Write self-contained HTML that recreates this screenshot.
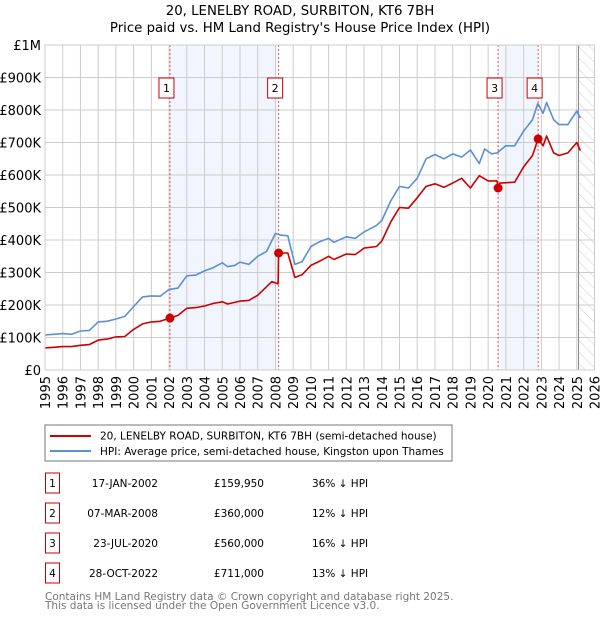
<!DOCTYPE html>
<html><head><meta charset="utf-8"><style>
body{margin:0;background:#fff;font-family:"DejaVu Sans","Liberation Sans",sans-serif;}
svg text{font-family:"DejaVu Sans","Liberation Sans",sans-serif;}
</style></head><body>
<svg id="c" width="600" height="620" xmlns="http://www.w3.org/2000/svg">
<defs><pattern id="hatch" width="8" height="8" patternUnits="userSpaceOnUse" patternTransform="rotate(-45)"><line x1="0" y1="0" x2="0" y2="8" stroke="#ccc" stroke-width="1"/></pattern></defs>
<text x="300" y="15" text-anchor="middle" font-size="13.3">20, LENELBY ROAD, SURBITON, KT6 7BH</text>
<text x="300" y="32" text-anchor="middle" font-size="13.3">Price paid vs. HM Land Registry's House Price Index (HPI)</text>
<g id="plot"></g>
<rect x="45" y="425" width="407" height="36" fill="#fff" stroke="#777"/>
<line x1="50" y1="436" x2="91" y2="436" stroke="#cc0000" stroke-width="2"/>
<text x="100" y="439.5" font-size="10.5">20, LENELBY ROAD, SURBITON, KT6 7BH (semi-detached house)</text>
<line x1="50" y1="451" x2="91" y2="451" stroke="#5b8fd6" stroke-width="2"/>
<text x="100" y="455" font-size="10.5">HPI: Average price, semi-detached house, Kingston upon Thames</text>
<g id="table" font-size="10.5"></g>
<text x="45" y="600" font-size="10.5" fill="#777">Contains HM Land Registry data © Crown copyright and database right 2025.</text>
<text x="45" y="609" font-size="10.5" fill="#777">This data is licensed under the Open Government Licence v3.0.</text>
</svg>
<script>
const NS="http://www.w3.org/2000/svg";
const hpiDates=[1995,1995.5,1996,1996.5,1997,1997.5,1998,1998.5,1999,1999.5,2000,2000.5,2001,2001.5,2002,2002.5,2003,2003.5,2004,2004.5,2005,2005.3,2005.7,2006,2006.5,2007,2007.5,2008,2008.3,2008.7,2009.1,2009.5,2010,2010.5,2011,2011.3,2012,2012.5,2013,2013.7,2014,2014.5,2015,2015.5,2016,2016.5,2017,2017.5,2018,2018.5,2019,2019.5,2019.8,2020.2,2020.5,2021,2021.5,2022,2022.5,2022.8,2023.1,2023.3,2023.7,2024,2024.5,2025,2025.2];
const hpiValues=[108,110,112,110,120,122,148,150,157,165,195,225,228,227,248,252,290,292,305,315,330,318,322,332,325,350,365,420,415,413,325,333,380,395,405,393,410,405,425,445,460,520,565,560,590,650,663,650,665,655,677,635,680,665,668,690,690,735,770,820,790,823,770,755,755,797,775];
const priceDates=[1995,1995.5,1996,1996.5,1997,1997.5,1998,1998.5,1999,1999.5,2000,2000.5,2001,2001.5,2002.05,2002.5,2003,2003.5,2004,2004.5,2005,2005.3,2006,2006.5,2007,2007.8,2008.15,2008.18,2008.7,2009.1,2009.5,2010,2010.5,2011,2011.3,2012,2012.5,2013,2013.7,2014,2014.5,2015,2015.5,2016,2016.5,2017,2017.5,2018,2018.5,2019,2019.5,2020,2020.5,2020.56,2020.65,2021.5,2022,2022.5,2022.82,2023.1,2023.3,2023.7,2024,2024.5,2025,2025.2];
const priceValues=[68,70,72,72,76,78,92,95,102,103,125,142,148,150,160,168,190,192,197,205,210,203,212,214,230,272,265,360,360,285,293,322,335,350,340,357,355,375,380,397,455,500,498,530,565,573,562,575,590,560,598,582,582,560,575,578,625,660,711,690,720,668,660,668,700,675];
const saleLabels=["1","2","3","4"];
const saleDates=[2002.05,2008.18,2020.56,2022.82];
const saleValues=[159.95,360,560,711];
const saleDateText=["17-JAN-2002","07-MAR-2008","23-JUL-2020","28-OCT-2022"];
const salePriceText=["£159,950","£360,000","£560,000","£711,000"];
const saleHpiText=["36% ↓ HPI","12% ↓ HPI","16% ↓ HPI","13% ↓ HPI"];
const yTicks=[0,100,200,300,400,500,600,700,800,900,1000];
const yTickLabels=["£0","£100K","£200K","£300K","£400K","£500K","£600K","£700K","£800K","£900K","£1M"];
const xYears=[1995,1996,1997,1998,1999,2000,2001,2002,2003,2004,2005,2006,2007,2008,2009,2010,2011,2012,2013,2014,2015,2016,2017,2018,2019,2020,2021,2022,2023,2024,2025,2026];
const X0=45,X1=594.5,Y0=370,Y1=45;
const x=t=>X0+(t-1995)/(2026-1995)*(X1-X0);
const y=v=>Y0-v/1000*(Y0-Y1);
const g=document.getElementById('plot');
function mk(tag,attrs,parent){const e=document.createElementNS(NS,tag);for(const k in attrs)e.setAttribute(k,attrs[k]);(parent||g).appendChild(e);return e;}
let s=mk('rect',{x:x(saleDates[0]),y:Y1,width:x(saleDates[1])-x(saleDates[0]),height:Y0-Y1,fill:'#eef3fc',opacity:0.8});


s=mk('rect',{x:x(saleDates[2]),y:Y1,width:x(saleDates[3])-x(saleDates[2]),height:Y0-Y1,fill:'#eef3fc',opacity:0.8});


s=mk('rect',{x:x(2025.1),y:Y1,width:X1-x(2025.1),height:Y0-Y1,fill:'url(#hatch)'});


yTicks.forEach((v,i)=>{
 let l=mk('line',{x1:X0,x2:X1,y1:y(v),y2:y(v),stroke:'#ccc','stroke-width':1});
 
 
 let t=mk('text',{x:X0-4,y:y(v)+5,'text-anchor':'end','font-size':13});
 t.textContent=yTickLabels[i];
 
 
});
xYears.forEach(yr=>{
 let l=mk('line',{x1:x(yr),x2:x(yr),y1:Y1,y2:Y0,stroke:'#ccc','stroke-width':1});
 
 
 let t=mk('text',{x:0,y:0,'text-anchor':'end','font-size':13,transform:`translate(${x(yr)+5},${Y0+6}) rotate(-90)`});
 t.textContent=yr;
 
 
});
let v=mk('line',{x1:x(2025.1),x2:x(2025.1),y1:Y1,y2:Y0,stroke:'#888','stroke-width':1});


saleDates.forEach((d,i)=>{
 let l=mk('line',{x1:x(d),x2:x(d),y1:Y1,y2:Y0,stroke:'#e55','stroke-width':1,'stroke-dasharray':'2,2'});
 
 
});
function path(ds,vs,col,name){
 let d=ds.map((t,i)=>(i?'L':'M')+x(t).toFixed(1)+','+y(vs[i]).toFixed(1)).join('');
 let p=mk('path',{d:d,fill:'none',stroke:col,'stroke-width':1.6,'stroke-linejoin':'round'});
 
 
}
path(hpiDates,hpiValues,'#5b8fd6','hpi-line');
path(priceDates,priceValues,'#cc0000','price-paid-line');
saleDates.forEach((d,i)=>{
 let c=mk('circle',{cx:x(d),cy:y(saleValues[i]),r:4.5,fill:'#cc0000'});
 
 
 let b=mk('rect',{x:x(d)-11,y:78,width:15,height:20,fill:'#fff',stroke:'#cc0000'});
 
 
 let t=mk('text',{x:x(d)-3.5,y:92,'text-anchor':'middle','font-size':11});
 t.textContent=saleLabels[i];
 
 
});
let ax=mk('rect',{x:X0,y:Y1,width:X1-X0,height:Y0-Y1,fill:'none',stroke:'#ccc'});


const tb=document.getElementById('table');
saleLabels.forEach((lab,i)=>{
 const cy=483+i*30;
 let b=mk('rect',{x:45.5,y:cy-10,width:14,height:20,fill:'#fff',stroke:'#cc0000'},tb);
 
 
 let t=mk('text',{x:52.5,y:cy+4,'text-anchor':'middle','font-size':10.5},tb);t.textContent=lab;
 
 
 t=mk('text',{x:158,y:cy+4,'text-anchor':'end'},tb);t.textContent=saleDateText[i];
 
 
 t=mk('text',{x:264,y:cy+4,'text-anchor':'end'},tb);t.textContent=salePriceText[i];
 
 
 t=mk('text',{x:312,y:cy+4},tb);t.textContent=saleHpiText[i];
 
 
});
</script>
</body></html>
